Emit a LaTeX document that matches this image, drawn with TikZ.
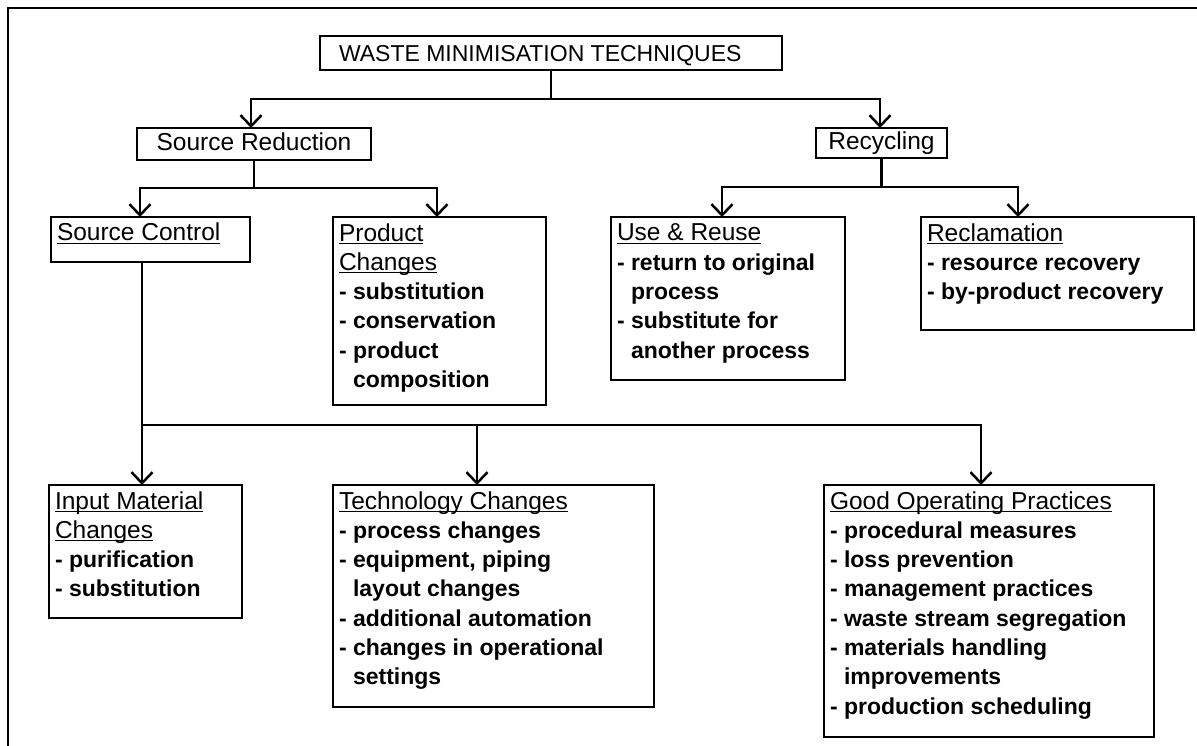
\documentclass[tikz,border=0pt]{standalone}
\usepackage{fontspec}
\setmainfont{Liberation Sans}
\usetikzlibrary{arrows.meta}
\newsavebox\ulsave
\newcommand\headfont{\fontsize{24.5pt}{29.3pt}\selectfont}
\newcommand\ulin[1]{\leavevmode\sbox\ulsave{\headfont #1}\rlap{\rule[-3pt]{\wd\ulsave}{1.3pt}}\usebox\ulsave}
\newcommand\itm[1]{\textbf{- #1}}
\newcommand\cnt[1]{\textbf{\phantom{- }#1}}
\newcommand\boxbody[3]{\parbox[c][#2][t]{#1}{\raggedright\leftskip=6pt\relax\rule{0pt}{24pt}#3}}
\tikzset{
  boxnode/.style={draw, line width=2.8pt, inner sep=0pt, outer sep=0pt, anchor=north west,
    font=\fontsize{23pt}{29.3pt}\selectfont},
  headnode/.style={draw, line width=2.8pt, inner sep=0pt, outer sep=0pt, anchor=north west,
    align=center, text height=18pt, text depth=4pt, font=\fontsize{24.5pt}{27pt}\selectfont},
  conn/.style={line width=2.5pt, line cap=rect},
  arr/.style={line width=2.5pt, -{Straight Barb[length=11pt,width=21pt]}}
}
\begin{document}
\begin{tikzpicture}[x=1pt,y=-1pt]
\useasboundingbox (0,0) rectangle (1197,746);
% outer frame
\draw[line width=1.4pt] (8,746) -- (8,8) -- (1197,8);

% title and level 1
\node[boxnode] (title) at (320,36) {\parbox[c][34pt][t]{462pt}{\leftskip=19pt\relax\rule{0pt}{26pt}WASTE MINIMISATION TECHNIQUES}};
\node[headnode, minimum width=234pt, minimum height=32pt] (SR) at (137,128) {Source Reduction};
\node[headnode, minimum width=131pt, minimum height=30pt] (REC) at (816,128) {Recycling};

% level 2
\node[boxnode] (SC) at (51,217) {\boxbody{199pt}{45pt}{\ulin{Source Control}}};
\node[boxnode] (PC) at (333,217) {\boxbody{213pt}{188pt}{\ulin{Product}\\ \ulin{Changes}\\ \itm{substitution}\\ \itm{conservation}\\ \itm{product}\\ \cnt{composition}}};
\node[boxnode] (UR) at (611,217) {\boxbody{234pt}{163pt}{\ulin{Use \& Reuse}\\ \itm{return to original}\\ \cnt{process}\\ \itm{substitute for}\\ \cnt{another process}}};
\node[boxnode] (RC) at (921,217) {\boxbody{273pt}{113pt}{\ulin{Reclamation}\\ \itm{resource recovery}\\ \itm{by-product recovery}}};

% level 3
\node[boxnode] (IM) at (49,485) {\boxbody{193pt}{133pt}{\ulin{Input Material}\\ \ulin{Changes}\\ \itm{purification}\\ \itm{substitution}}};
\node[boxnode] (TC) at (333,485) {\boxbody{321pt}{222pt}{\ulin{Technology Changes}\\ \itm{process changes}\\ \itm{equipment, piping}\\ \cnt{layout changes}\\ \itm{additional automation}\\ \itm{changes in operational}\\ \cnt{settings}}};
\node[boxnode] (GOP) at (824,485) {\boxbody{330pt}{252pt}{\ulin{Good Operating Practices}\\ \itm{procedural measures}\\ \itm{loss prevention}\\ \itm{management practices}\\ \itm{waste stream segregation}\\ \itm{materials handling}\\ \cnt{improvements}\\ \itm{production scheduling}}};

% connectors: title -> level 1
\coordinate (a-sr) at (251,99);
\coordinate (a-rc) at (880,99);
\draw[conn] (title.south) -- (title.south |- a-sr);
\draw[conn] (a-sr) -- (a-rc);
\draw[arr] (a-sr) -- (a-sr |- SR.north);
\draw[arr] (a-rc) -- (a-rc |- REC.north);

% Source Reduction -> children
\coordinate (b-l) at (140,188);
\coordinate (b-r) at (437,188);
\draw[conn] (SR.south) -- (SR.south |- b-l);
\draw[conn] (b-l) -- (b-r);
\draw[arr] (b-l) -- (b-l |- SC.north);
\draw[arr] (b-r) -- (b-r |- PC.north);

% Recycling -> children
\coordinate (c-l) at (722,187);
\coordinate (c-r) at (1018,187);
\draw[conn] (REC.south) -- (REC.south |- c-l);
\draw[conn] (c-l) -- (c-r);
\draw[arr] (c-l) -- (c-l |- UR.north);
\draw[arr] (c-r) -- (c-r |- RC.north);

% Source Control -> level 3
\coordinate (d-l) at (142,425);
\coordinate (d-m) at (477,425);
\coordinate (d-r) at (981,425);
\draw[conn] (d-l |- SC.south) -- (d-l);
\draw[conn] (d-l) -- (d-r);
\draw[arr] (d-l) -- (d-l |- IM.north);
\draw[arr] (d-m) -- (d-m |- TC.north);
\draw[arr] (d-r) -- (d-r |- GOP.north);
\end{tikzpicture}
\end{document}
